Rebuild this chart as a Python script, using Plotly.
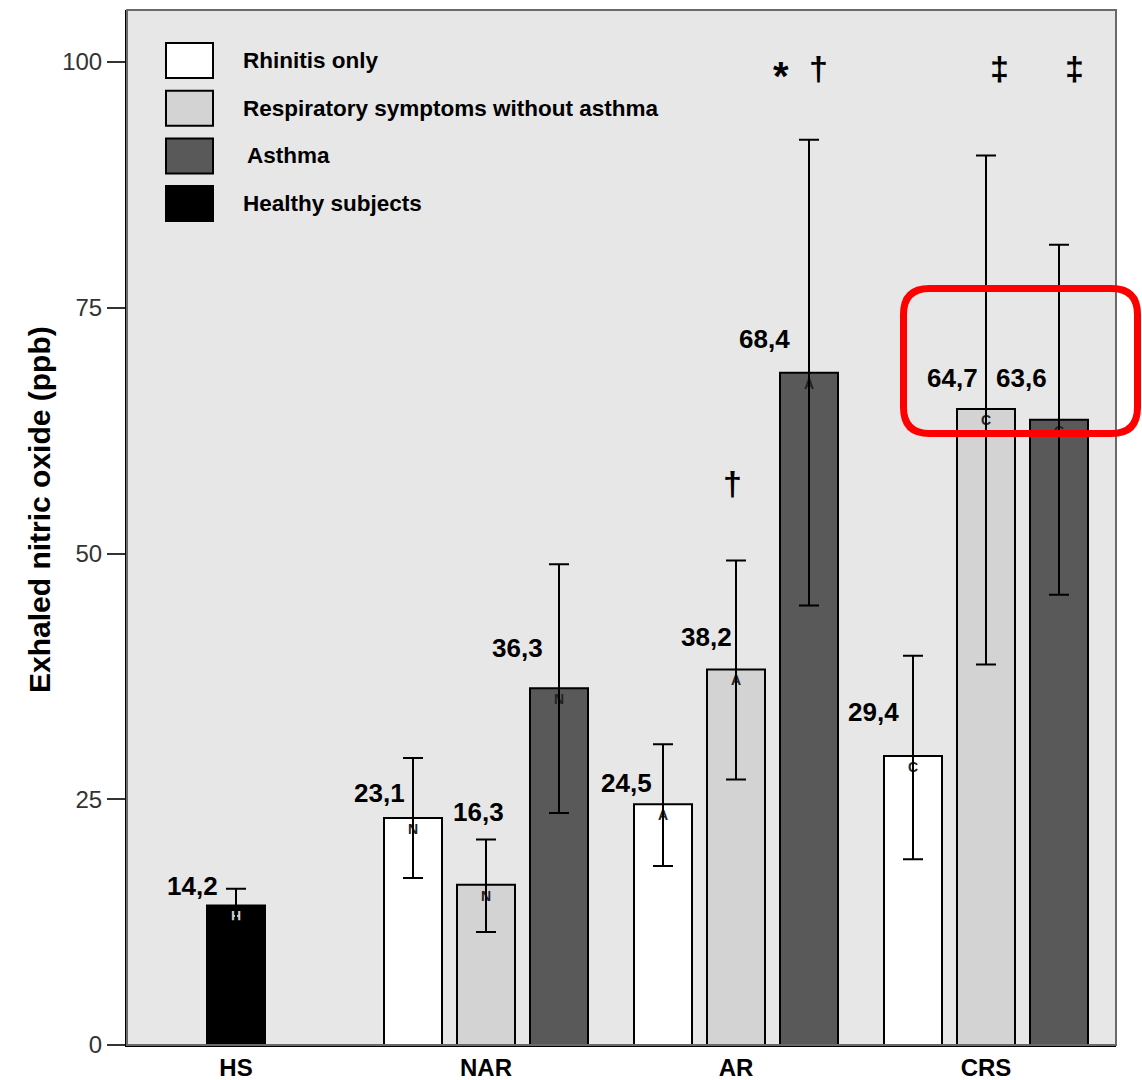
import plotly.graph_objects as go

# ---------------- data ----------------
categories = ["HS", "NAR", "AR", "CRS"]
series_names = ["Rhinitis only", "Respiratory symptoms without asthma", "Asthma", "Healthy subjects"]

rhinitis_cats = ["NAR", "AR", "CRS"]
rhinitis_only = [23.1, 24.5, 29.4]
rhinitis_only_upper = [29.2, 30.6, 39.6]
rhinitis_only_lower = [17.0, 18.2, 18.9]

resp_cats = ["NAR", "AR", "CRS"]
resp_symptoms = [16.3, 38.2, 64.7]
resp_symptoms_upper = [20.9, 49.3, 90.5]
resp_symptoms_lower = [11.5, 27.0, 38.7]

asthma_cats = ["NAR", "AR", "CRS"]
asthma = [36.3, 68.4, 63.6]
asthma_upper = [48.9, 92.1, 81.4]
asthma_lower = [23.6, 44.7, 45.8]

healthy_cats = ["HS"]
healthy = [14.2]
healthy_upper = [15.9]
healthy_lower = [12.6]

# significance marks: (series index, category, text)
sig_marks = [(2, "AR", "*"), (2, "AR", "†"), (1, "AR", "†"), (1, "CRS", "‡"), (2, "CRS", "‡")]

# ---------------- style ----------------
FONT = "Liberation Sans, Arial, sans-serif"
colors = ["#ffffff", "#d3d3d3", "#595959", "#000000"]
slot = [-0.292, 0.0, 0.292, 0.0]
bar_w = 0.232
letter_colors = ["#222222", "#222222", "#222222", "#d0d0d0"]
# label shifts (px) relative to bar top centre, per series, per bar
label_shift = [
    [(-34, 25), (-37, 21), (-40, 44)],
    [(-8, 73), (-30, 32), (-34, 31)],
    [(-42, 40), (-45, 34), (-38, 42)],
    [(-44, 19)],
]
# significance mark placement: (xshift px, y value, font size)
sig_style = [(-28, 98.6, 40), (9, 99.4, 34), (-4, 57.2, 34), (13, 99.4, 34), (15, 99.4, 34)]

series = [
    (rhinitis_cats, rhinitis_only, rhinitis_only_upper, rhinitis_only_lower),
    (resp_cats, resp_symptoms, resp_symptoms_upper, resp_symptoms_lower),
    (asthma_cats, asthma, asthma_upper, asthma_lower),
    (healthy_cats, healthy, healthy_upper, healthy_lower),
]

fig = go.Figure()
annotations = []
for s, (cats, vals, up, lo) in enumerate(series):
    xs = [categories.index(c) for c in cats]
    fig.add_trace(go.Bar(
        x=xs, y=vals, name=series_names[s],
        offset=slot[s] - bar_w / 2, width=bar_w,
        marker=dict(color=colors[s], line=dict(color="#000000", width=2)),
        error_y=dict(type="data", symmetric=False,
                     array=[u - v for u, v in zip(up, vals)],
                     arrayminus=[v - l for v, l in zip(vals, lo)],
                     color="#000000", thickness=2, width=10),
        text=[c[0] for c in cats], textposition="inside", insidetextanchor="end",
        textangle=0, textfont=dict(family=FONT, size=14, color=letter_colors[s], weight="bold"),
        showlegend=False, hoverinfo="skip",
    ))
    for i, (x, v) in enumerate(zip(xs, vals)):
        dx, dy = label_shift[s][i]
        annotations.append(dict(
            x=x + slot[s], y=v, xref="x", yref="y", showarrow=False,
            text=f"{v:.1f}".replace(".", ","), xshift=dx, yshift=dy,
            xanchor="center", yanchor="middle",
            font=dict(family=FONT, size=26, color="#000000", weight="bold")))

for (s, cat, txt), (dx, yv, fs) in zip(sig_marks, sig_style):
    annotations.append(dict(
        x=categories.index(cat) + slot[s], y=yv, xref="x", yref="y", showarrow=False,
        text=txt, xshift=dx, xanchor="center", yanchor="middle",
        font=dict(family=FONT, size=fs, color="#000000", weight="bold")))

# ---------------- layout geometry (pixels) ----------------
W, H = 1142, 1080
ML, MR, MT, MB = 127, 26, 10, 35
PW, PH = W - ML - MR, H - MT - MB


def px(x):
    return (x - ML) / PW


def py(y):
    return (H - MB - y) / PH


shapes = []
# frame (top / right border)
shapes.append(dict(type="rect", xref="paper", yref="paper", x0=0, x1=1, y0=0, y1=1,
                   line=dict(color="#6a6a6a", width=2), layer="above"))

# custom legend
for i, name in enumerate(series_names):
    top = 43 + i * 47.7
    shapes.append(dict(type="rect", xref="paper", yref="paper",
                       x0=px(166), x1=px(213), y0=py(top + 35), y1=py(top),
                       fillcolor=colors[i], line=dict(color="#000000", width=2)))
    annotations.append(dict(x=px(241 + (4 if name == "Asthma" else 0)), y=py(top + 17.5),
                            xref="paper", yref="paper", showarrow=False, text=name,
                            xanchor="left", yanchor="middle",
                            font=dict(family=FONT, size=22.5, color="#000000", weight="bold")))

# y-axis title
annotations.append(dict(x=px(39), y=py(510), xref="paper", yref="paper", showarrow=False,
                        text="Exhaled nitric oxide (ppb)", textangle=-90,
                        xanchor="center", yanchor="middle",
                        font=dict(family=FONT, size=30, color="#000000", weight="bold")))

# red rounded highlight box
L, R, T, B, r = 903.5, 1137.5, 288.5, 433.5, 26
pts = [("M", L + r, T), ("L", R - r, T), ("Q", R, T, R, T + r), ("L", R, B - r),
       ("Q", R, B, R - r, B), ("L", L + r, B), ("Q", L, B, L, B - r), ("L", L, T + r),
       ("Q", L, T, L + r, T)]
path = ""
for p in pts:
    if p[0] == "Q":
        path += f"Q{px(p[1]):.5f},{py(p[2]):.5f} {px(p[3]):.5f},{py(p[4]):.5f} "
    else:
        path += f"{p[0]}{px(p[1]):.5f},{py(p[2]):.5f} "
path += "Z"
shapes.append(dict(type="path", xref="paper", yref="paper", path=path,
                   line=dict(color="#ff0000", width=7), layer="above"))

y_top = PH / 9.83

fig.update_layout(
    width=W, height=H,
    margin=dict(l=ML, r=MR, t=MT, b=MB, pad=0),
    paper_bgcolor="#ffffff", plot_bgcolor="#e7e7e7",
    barmode="overlay",
    showlegend=False,
    font=dict(family=FONT),
    xaxis=dict(range=[-0.436, -0.436 + PW / 250], tickmode="array",
               tickvals=list(range(len(categories))), ticktext=categories,
               ticks="", showgrid=False, zeroline=False, automargin=False,
               showline=True, linecolor="#000000", linewidth=2,
               tickfont=dict(family=FONT, size=24, color="#000000", weight="bold")),
    yaxis=dict(range=[0, y_top], tickmode="array", tickvals=[0, 25, 50, 75, 100],
               ticks="outside", ticklen=18, tickwidth=2, tickcolor="#333333",
               showgrid=False, zeroline=False, automargin=False,
               showline=True, linecolor="#000000", linewidth=2,
               tickfont=dict(family=FONT, size=24, color="#333333")),
    annotations=annotations,
    shapes=shapes,
)

fig.write_html("out.html")
